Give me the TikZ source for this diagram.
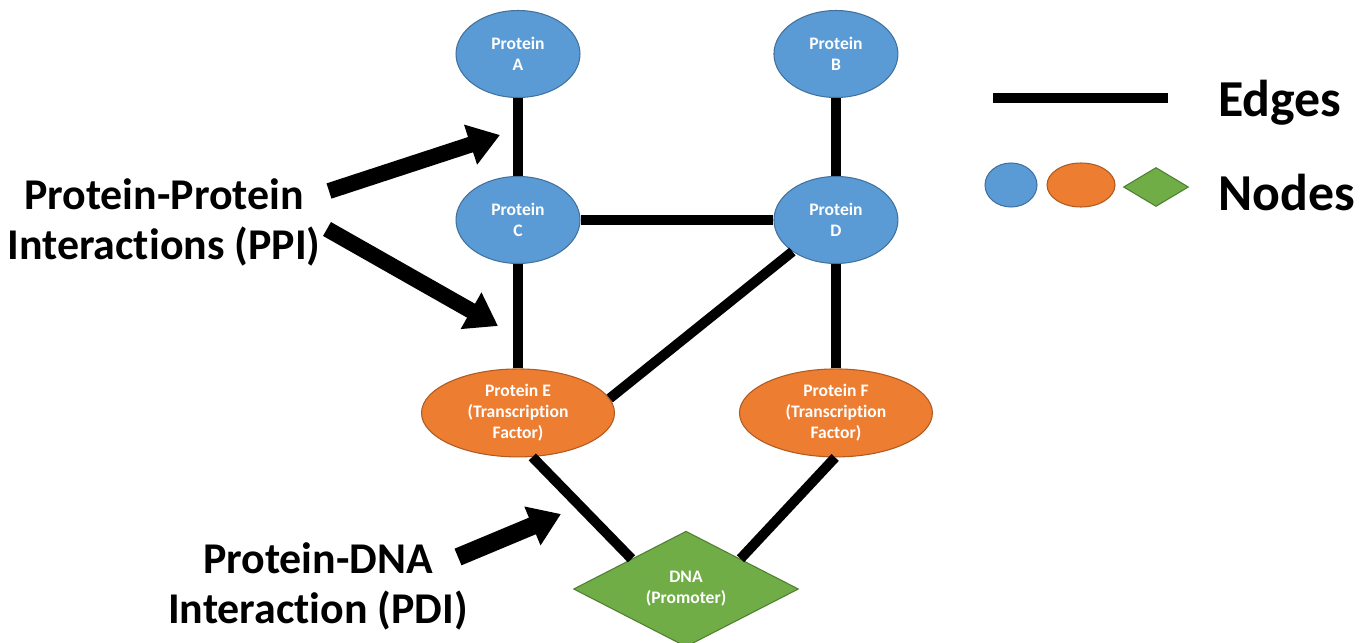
\documentclass[tikz,border=0pt]{standalone}
\usepackage{fontspec}
\setmainfont{Carlito}[Ligatures=NoCommon]
\usetikzlibrary{positioning,arrows.meta,shapes.geometric}

\definecolor{protblue}{HTML}{5B9BD5}
\definecolor{protblueline}{HTML}{41719C}
\definecolor{tforange}{HTML}{ED7D31}
\definecolor{tforangeline}{HTML}{AE5A21}
\definecolor{dnagreen}{HTML}{70AD47}
\definecolor{dnagreenline}{HTML}{507E32}

\tikzset{
  prot/.style={ellipse,draw=protblueline,fill=protblue,line width=0.6pt,
    minimum width=2.48cm,minimum height=1.74cm,inner sep=0pt,align=center,
    text=white,font=\fontsize{10}{12}\selectfont\bfseries},
  tf/.style={prot,draw=tforangeline,fill=tforange,
    minimum width=3.86cm,minimum height=1.76cm},
  dna/.style={diamond,draw=dnagreenline,fill=dnagreen,line width=0.6pt,
    minimum width=4.5cm,minimum height=2.08cm,inner sep=0pt,align=center,
    text=white,font=\fontsize{10}{12}\selectfont\bfseries},
  link/.style={line width=0.2cm},
  pointer/.style={line width=0.32cm,-{Triangle[length=0.62cm,width=0.8cm]}},
  bigtext/.style={align=center,font=\fontsize{25}{28.5}\selectfont\bfseries},
  legtext/.style={anchor=west,font=\fontsize{29.5}{34}\selectfont\bfseries}
}

\begin{document}
\begin{tikzpicture}[x=0.02cm,y=-0.02cm,on grid]
  \useasboundingbox (0,0) rectangle (1371,642);

  % Proteins
  \node [prot] (pa) at (518,54) {Protein\\A};
  \node [prot,right=6.36cm of pa] (pb) {Protein\\B};
  \node [prot,below=3.32cm of pa] (pc) {Protein\\C};
  \node [prot,below=3.32cm of pb] (pd) {Protein\\D};

  % Transcription factors
  \node [tf,below=3.86cm of pc] (pe) {Protein E\\(Transcription\\Factor)};
  \node [tf,below=3.86cm of pd] (pf) {Protein F\\(Transcription\\Factor)};

  % Promoter
  \node [dna] (dna) at (686,589) {DNA\\(Promoter)};

  % Edges
  \draw [link] (pa) -- (pc);
  \draw [link] (pb) -- (pd);
  \draw [link] (pc) -- (pd);
  \draw [link] (pc) -- (pe);
  \draw [link] (pd) -- (pf);
  \draw [link] (pd.216) -- (pe.9);
  \draw [link] (pe.288) -- (dna.151);
  \draw [link] (pf.269) -- (dna.29);

  % PPI label and arrows
  \node [bigtext] (ppi) at (164,222) {Protein-Protein\\Interactions (PPI)};
  \coordinate (ppiup) at (329,191);
  \coordinate (ppiupend) at (500,135);
  \coordinate (ppidown) at (327,229);
  \coordinate (ppidownend) at (498,326);
  \draw [pointer] (ppiup) -- (ppiupend);
  \draw [pointer] (ppidown) -- (ppidownend);

  % PDI label and arrow
  \node [bigtext] (pdi) at (318,586) {Protein-DNA\\Interaction (PDI)};
  \coordinate (pdistart) at (458,557);
  \coordinate (pdiend) at (561,514);
  \draw [pointer,line width=0.36cm] (pdistart) -- (pdiend);

  % Legend
  \coordinate (lega) at (993,98);
  \coordinate (legb) at (1168,98);
  \draw [link] (lega) -- (legb);
  \node [legtext] (edges) at (1212,103) {Edges};
  \node [prot,minimum width=1.04cm,minimum height=0.88cm] (legblue) at (1011,185) {};
  \node [tf,minimum width=1.36cm,minimum height=0.88cm] (legorange) at (1081,185) {};
  \node [dna,minimum width=1.3cm,minimum height=0.78cm] (leggreen) at (1156,187) {};
  \node [legtext] (nodes) at (1212,193) {Nodes};

\end{tikzpicture}
\end{document}
